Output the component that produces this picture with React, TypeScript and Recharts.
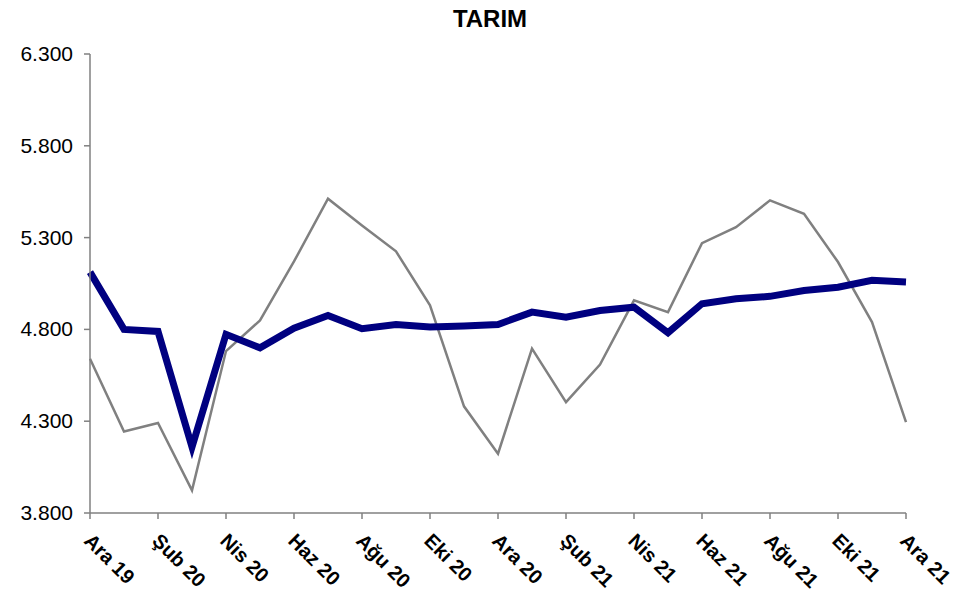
import { LineChart, Line, XAxis, YAxis } from 'recharts'

const months = [
  'Ara 19', 'Oca 20', 'Şub 20', 'Mar 20', 'Nis 20', 'May 20', 'Haz 20', 'Tem 20', 'Ağu 20',
  'Eyl 20', 'Eki 20', 'Kas 20', 'Ara 20', 'Oca 21', 'Şub 21', 'Mar 21', 'Nis 21', 'May 21',
  'Haz 21', 'Tem 21', 'Ağu 21', 'Eyl 21', 'Eki 21', 'Kas 21', 'Ara 21',
]

// thick navy line
const trend = [
  5112, 4800, 4789, 4159, 4773, 4700, 4807, 4876, 4804, 4826, 4813, 4818, 4827,
  4894, 4867, 4903, 4921, 4782, 4940, 4967, 4980, 5012, 5030, 5067, 5058,
]

// thin gray line
const monthly = [
  4640, 4244, 4290, 3923, 4682, 4849, 5170, 5512, 5366, 5225, 4931, 4381, 4123,
  4695, 4404, 4608, 4958, 4894, 5270, 5357, 5503, 5430, 5167, 4840, 4295,
]

const yTicks = [3800, 4300, 4800, 5300, 5800, 6300]

const chartData = months.map((m, i) => ({ month: m, trend: trend[i], monthly: monthly[i] }))

const FONT = '"Liberation Sans", Arial, sans-serif'

const fmt = (v: number) => v.toLocaleString('de-DE')

function XTick(props: any) {
  const { x, y, payload } = props
  return (
    <g transform={`translate(${x - 7},${y + 21})`}>
      <text
        transform="rotate(45)"
        textAnchor="start"
        style={{ fontFamily: FONT, fontWeight: 'bold', fontSize: 20 }}
        fill="#000"
      >
        {payload.value}
      </text>
    </g>
  )
}

function YTick(props: any) {
  const { x, y, payload } = props
  return (
    <text
      x={x}
      y={y}
      dy={7}
      textAnchor="end"
      style={{ fontFamily: FONT, fontSize: 21 }}
      fill="#000"
    >
      {fmt(payload.value)}
    </text>
  )
}

export default function App() {
  return (
    <div style={{ position: 'absolute', left: 0, top: 0, width: 958, height: 597, background: '#fff', fontFamily: FONT }}>
      <div
        style={{
          position: 'absolute',
          left: 0,
          width: 980,
          top: 5,
          textAlign: 'center',
          fontWeight: 'bold',
          fontSize: 24,
          lineHeight: '28px',
          color: '#000',
        }}
      >
        TARIM
      </div>
      <LineChart
        width={958}
        height={597}
        data={chartData}
        margin={{ top: 54, right: 52, left: 0, bottom: 0 }}
      >
        <XAxis
          dataKey="month"
          interval={1}
          height={84}
          tickSize={6}
          axisLine={{ stroke: '#808080', strokeWidth: 1.5 }}
          tickLine={{ stroke: '#808080', strokeWidth: 1.5 }}
          tick={<XTick />}
        />
        <YAxis
          domain={[3800, 6300]}
          ticks={yTicks}
          width={90}
          tickSize={6}
          tickMargin={11}
          axisLine={{ stroke: '#808080', strokeWidth: 1.5 }}
          tickLine={{ stroke: '#808080', strokeWidth: 1.5 }}
          tick={<YTick />}
        />
        <Line
          type="linear"
          dataKey="monthly"
          stroke="#808080"
          strokeWidth={2.5}
          dot={false}
          isAnimationActive={false}
        />
        <Line
          type="linear"
          dataKey="trend"
          stroke="#000080"
          strokeWidth={7}
          dot={false}
          isAnimationActive={false}
        />
      </LineChart>
    </div>
  )
}
